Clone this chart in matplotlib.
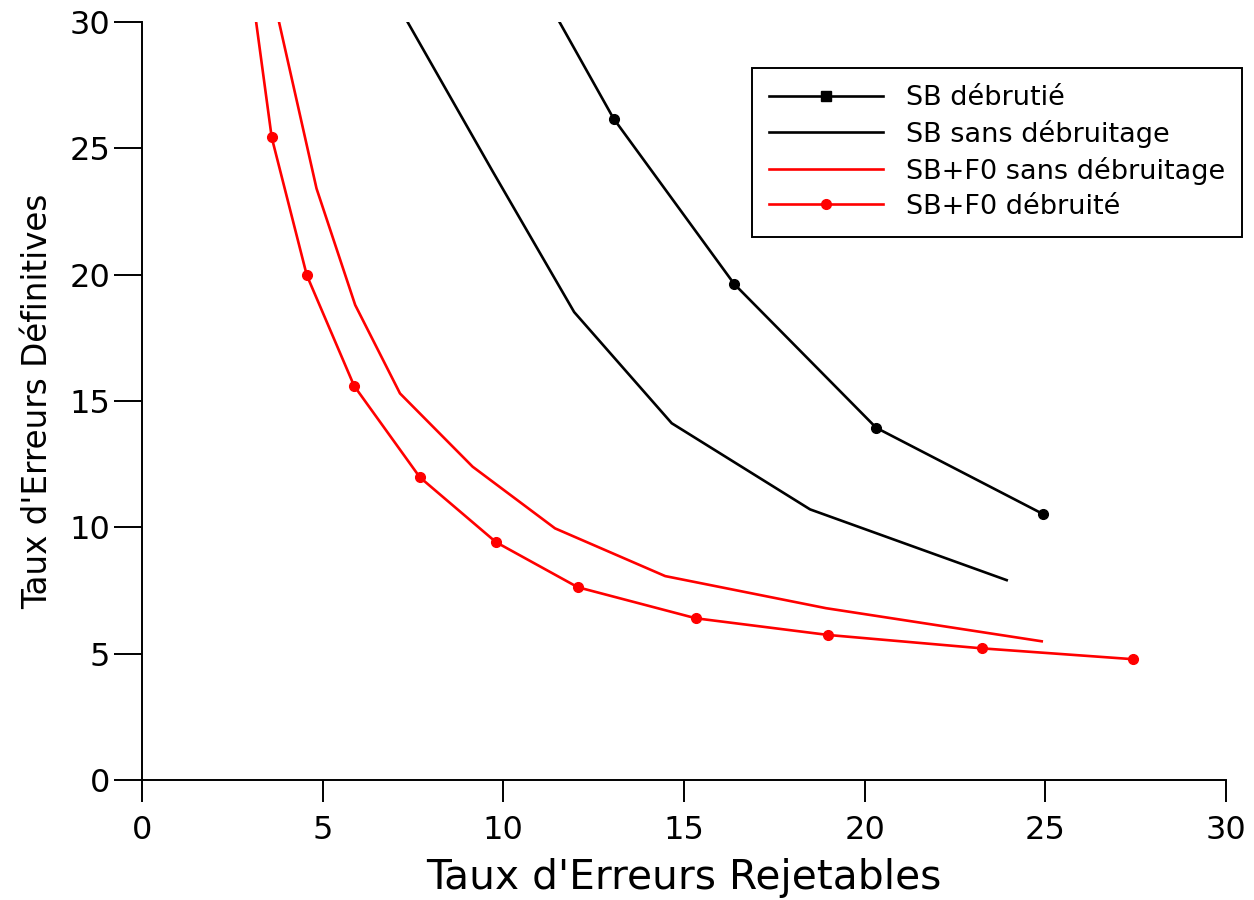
import matplotlib
matplotlib.use('Agg')
import matplotlib.pyplot as plt

# ============================== 数据 ==============================
# SB débruité (noir, avec marqueurs)
sb_deb_x = [10.77, 13.05, 16.39, 20.32, 24.93]
sb_deb_y = [32.0, 26.18, 19.63, 13.94, 10.53]

# SB sans débruitage (noir)
sb_sans_x = [6.55, 7.37, 9.7, 11.96, 14.66, 18.49, 23.93]
sb_sans_y = [32.0, 29.95, 24.1, 18.52, 14.12, 10.71, 7.91]

# SB+F0 sans débruitage (rouge)
f0_sans_x = [3.48, 3.80, 4.83, 5.90, 7.14, 9.15, 11.43, 14.48, 18.93, 24.90]
f0_sans_y = [32.0, 29.95, 23.41, 18.80, 15.30, 12.40, 9.96, 8.07, 6.80, 5.49]

# SB+F0 débruité (rouge, avec marqueurs)
f0_deb_x = [2.97, 3.59, 4.56, 5.87, 7.69, 9.80, 12.06, 15.33, 18.99, 23.25, 27.44]
f0_deb_y = [32.0, 25.43, 19.98, 15.60, 11.98, 9.41, 7.63, 6.40, 5.74, 5.21, 4.78]

labels = ['SB débrutié', 'SB sans débruitage', 'SB+F0 sans débruitage', 'SB+F0 débruité']
ticks = [0, 5, 10, 15, 20, 25, 30]

# ============================== 绘图 ==============================
plt.rcParams['font.family'] = 'DejaVu Sans'

fig = plt.figure(figsize=(12.54, 9), dpi=100)
ax = fig.add_axes([142 / 1254, 1 - 780 / 900, 1084 / 1254, 758 / 900])

lw = 1.9
l1, = ax.plot(sb_deb_x, sb_deb_y, color='black', lw=lw, marker='o', ms=7)
l2, = ax.plot(sb_sans_x, sb_sans_y, color='black', lw=lw)
l3, = ax.plot(f0_sans_x, f0_sans_y, color='red', lw=lw)
l4, = ax.plot(f0_deb_x, f0_deb_y, color='red', lw=lw, marker='o', ms=7)

ax.set_xlim(0, 30)
ax.set_ylim(0, 30)
ax.set_xticks(ticks)
ax.set_yticks(ticks)

# 坐标轴样式
for s in ['top', 'right']:
    ax.spines[s].set_visible(False)
for s in ['left', 'bottom']:
    ax.spines[s].set_linewidth(1.4)
ax.tick_params(axis='x', direction='out', length=16, width=1.4, pad=9, labelsize=23)
ax.tick_params(axis='y', direction='out', length=20, width=1.4, pad=3, labelsize=23)

ax.set_xlabel("Taux d'Erreurs Rejetables", fontsize=29.3, labelpad=9)
ax.set_ylabel("Taux d'Erreurs Définitives", fontsize=23.5, labelpad=11)

# 图例
leg = ax.legend([l1, l2, l3, l4], labels, loc='upper left',
                bbox_to_anchor=(0.5627, 0.939), fontsize=19.5,
                handlelength=4.2, handletextpad=0.85, labelspacing=0.33,
                borderpad=0.62, borderaxespad=0, fancybox=False,
                framealpha=1, edgecolor='black', numpoints=1)
leg.get_frame().set_linewidth(1.4)
leg.legend_handles[0].set_marker('s')
leg.legend_handles[0].set_markersize(6.5)

plt.savefig('out.png', dpi=100)
